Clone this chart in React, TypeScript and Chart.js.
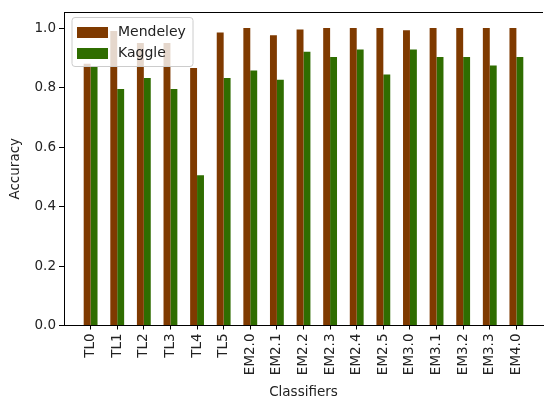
import React, { useEffect, useRef } from 'react';
import { Chart, registerables } from 'chart.js';

Chart.register(...registerables);

const categories = ['TL0', 'TL1', 'TL2', 'TL3', 'TL4', 'TL5', 'EM2.0', 'EM2.1', 'EM2.2', 'EM2.3', 'EM2.4', 'EM2.5', 'EM3.0', 'EM3.1', 'EM3.2', 'EM3.3', 'EM4.0'];
const mendeley = [0.88, 0.99, 0.95, 0.95, 0.866, 0.985, 1.0, 0.976, 0.995, 1.0, 1.0, 1.0, 0.993, 1.0, 1.0, 1.0, 1.0];
const kaggle = [0.87, 0.795, 0.832, 0.795, 0.505, 0.832, 0.857, 0.826, 0.92, 0.903, 0.928, 0.844, 0.928, 0.903, 0.903, 0.874, 0.903];
const yTicks = [0, 0.2, 0.4, 0.6, 0.8, 1.0];
const seriesNames = ['Mendeley', 'Kaggle'];
const seriesColors = ['#7f3a00', '#2f6d00'];

const FONT = 'DejaVu Sans';

const innerLegend = {
  id: 'innerLegend',
  afterDraw(chart: any) {
    const ctx = chart.ctx;
    const { left, top, right } = chart.chartArea;
    ctx.save();
    // top spine
    ctx.strokeStyle = '#000';
    ctx.lineWidth = 1;
    ctx.beginPath();
    ctx.moveTo(left, Math.round(top) + 0.5);
    ctx.lineTo(right, Math.round(top) + 0.5);
    ctx.stroke();

    // legend box
    const x0 = left + 8;
    const y0 = top + 5.5;
    const w = 121;
    const h = 49;
    const r = 3;
    ctx.beginPath();
    ctx.moveTo(x0 + r, y0);
    ctx.lineTo(x0 + w - r, y0);
    ctx.quadraticCurveTo(x0 + w, y0, x0 + w, y0 + r);
    ctx.lineTo(x0 + w, y0 + h - r);
    ctx.quadraticCurveTo(x0 + w, y0 + h, x0 + w - r, y0 + h);
    ctx.lineTo(x0 + r, y0 + h);
    ctx.quadraticCurveTo(x0, y0 + h, x0, y0 + h - r);
    ctx.lineTo(x0, y0 + r);
    ctx.quadraticCurveTo(x0, y0, x0 + r, y0);
    ctx.closePath();
    ctx.fillStyle = 'rgba(255,255,255,0.8)';
    ctx.fill();
    ctx.strokeStyle = '#cccccc';
    ctx.stroke();

    const datasets = chart.data.datasets;
    datasets.forEach((ds: any, i: number) => {
      const cy = y0 + 15 + i * 21;
      ctx.fillStyle = ds.backgroundColor;
      ctx.fillRect(x0 + 5, cy - 5.5, 31, 11);
      ctx.fillStyle = '#222';
      ctx.font = `14px "${FONT}"`;
      ctx.textAlign = 'left';
      ctx.textBaseline = 'middle';
      ctx.fillText(ds.label, x0 + 46, cy);
    });
    ctx.restore();
  },
};

export default function App() {
  const canvasRef = useRef<HTMLCanvasElement | null>(null);

  useEffect(() => {
    if (!canvasRef.current) return;
    const chart = new Chart(canvasRef.current, {
      type: 'bar',
      data: {
        datasets: [
          {
            label: seriesNames[0],
            data: categories.map((_, i) => ({ x: i, y: mendeley[i] })),
            backgroundColor: seriesColors[0],
            categoryPercentage: 0.52,
            barPercentage: 1.0,
          },
          {
            label: seriesNames[1],
            data: categories.map((_, i) => ({ x: i, y: kaggle[i] })),
            backgroundColor: seriesColors[1],
            categoryPercentage: 0.52,
            barPercentage: 1.0,
          },
        ],
      },
      options: {
        responsive: false,
        animation: false,
        layout: { padding: { left: 0, right: 7, top: 12, bottom: 0 } },
        plugins: {
          legend: { display: false },
          tooltip: { enabled: false },
        },
        scales: {
          x: {
            type: 'linear',
            min: -1,
            max: 17,
            offset: false,
            afterBuildTicks: (scale: any) => {
              scale.ticks = categories.map((_, i) => ({ value: i }));
            },
            afterFit: (scale: any) => {
              scale.height = 82.5;
            },
            ticks: {
              autoSkip: false,
              maxRotation: 90,
              minRotation: 90,
              padding: 4,
              color: '#222',
              font: { family: FONT, size: 13.5 },
              callback: (v: any) => categories[v] ?? '',
            },
            grid: {
              display: true,
              offset: false,
              drawOnChartArea: false,
              drawTicks: true,
              tickLength: 4,
              color: '#000',
            },
            border: { display: true, color: '#000', width: 1 },
            title: {
              display: true,
              text: 'Classifiers',
              color: '#222',
              font: { family: FONT, size: 13.5 },
              padding: { top: 0, bottom: 7 },
            },
          },
          y: {
            min: 0,
            max: 1.054,
            afterBuildTicks: (scale: any) => {
              scale.ticks = yTicks.map((v) => ({ value: v }));
            },
            afterFit: (scale: any) => {
              scale.width = 64;
            },
            ticks: {
              padding: 3,
              color: '#222',
              font: { family: FONT, size: 13.5 },
              callback: (v: any) => Number(v).toFixed(1),
            },
            grid: {
              display: true,
              drawOnChartArea: false,
              drawTicks: true,
              tickLength: 5,
              color: '#000',
            },
            border: { display: true, color: '#000', width: 1 },
            title: {
              display: true,
              text: 'Accuracy',
              color: '#222',
              font: { family: FONT, size: 13.5 },
              padding: { top: 7, bottom: 0 },
            },
          },
        },
      },
      plugins: [innerLegend],
    } as any);
    return () => chart.destroy();
  }, []);

  return (
    <div style={{ position: 'absolute', left: 0, top: 0, width: 550, height: 408, background: '#fff' }}>
      <canvas ref={canvasRef} width={550} height={408} style={{ display: 'block' }} />
    </div>
  );
}
